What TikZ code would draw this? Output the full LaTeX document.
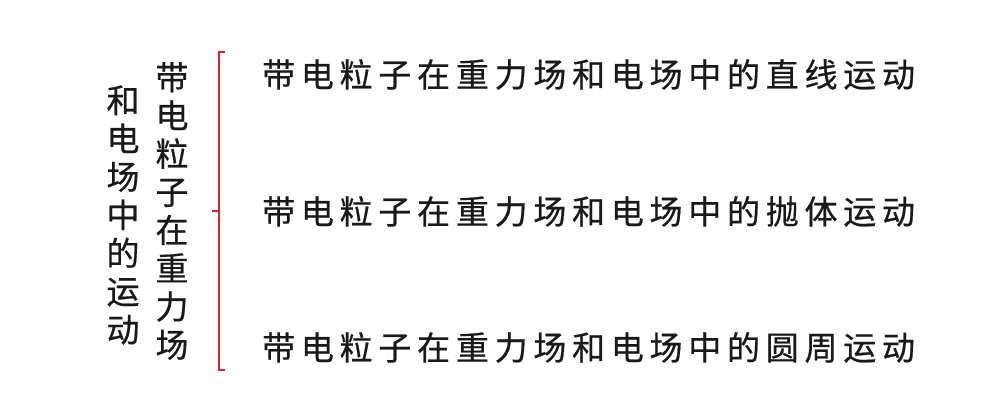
\documentclass[tikz,border=0pt]{standalone}
\usepackage{fontspec}
\newfontfamily\cjk[LetterSpace=17.4,FakeBold=0.6]{Noto Sans CJK SC}
\newfontfamily\cjkcol[FakeBold=0.6]{Noto Sans CJK SC}
\usetikzlibrary{positioning,calc}
\definecolor{bracketred}{RGB}{214,38,45}
\tikzset{item node/.style={anchor=base west,inner sep=0pt,font=\cjk\fontsize{33}{38}\selectfont,text=black!90},
col node/.style={align=center,inner sep=0pt,font=\cjkcol\fontsize{33}{38.2}\selectfont,text=black!90}}

\begin{document}
\begin{tikzpicture}[x=1pt,y=-1pt]
\useasboundingbox (0,0) rectangle (1000,403);
\node[col node] (field) at (172,211) {带\\电\\粒\\子\\在\\重\\力\\场};
\node[col node] (motion) at (123,215) {和\\电\\场\\中\\的\\运\\动};
\coordinate (top) at (219,52);
\coordinate (bottom) at (219,370);
\coordinate (tick) at (219,211);
\draw[bracketred,line width=2.2pt] ($(top)+(6,0)$) -- (top) -- (bottom) -- ++(6,0);
\draw[bracketred,line width=2.2pt] (tick) -- ++(-7,0);
\node[item node] (line) at (262,87) {带电粒子在重力场和电场中的直线运动};
\node[item node] (throw) at (262,224) {带电粒子在重力场和电场中的抛体运动};
\node[item node] (circle) at (262,360) {带电粒子在重力场和电场中的圆周运动};
\end{tikzpicture}
\end{document}
